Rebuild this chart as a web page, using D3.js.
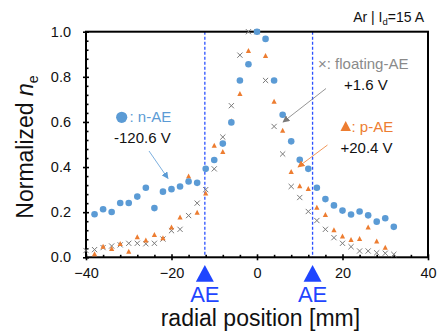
<!DOCTYPE html>
<html>
<head>
<meta charset="utf-8">
<script src="https://cdn.jsdelivr.net/npm/d3@7"></script>
<style>
  body { margin: 0; background: #fff; }
  svg { display: block; font-family: 'Liberation Sans', Arial, sans-serif; }
  .tick text { font-size: 14.5px; fill: #111; }
</style>
</head>
<body>
<svg width="441" height="334"></svg>
<script>
  // radial positions [mm]
  const posNAE = [-38, -36, -34, -32, -30, -28, -26, -24, -22, -20, -18, -16, -14, -12, -10, -8, -6, -4, -2,
    0, 2, 4, 6, 8, 10, 12, 14, 16, 18, 20, 22, 24, 26, 28, 30, 32];
  const valNAE = [0.191, 0.213, 0.201, 0.241, 0.241, 0.269, 0.308, 0.218, 0.291, 0.302, 0.314, 0.336, 0.330, 0.392, 0.431, 0.504, 0.598, 0.784, 0.856,
    1.0, 0.968, 0.784, 0.632, 0.514, 0.432, 0.392, 0.308, 0.258, 0.230, 0.207, 0.190, 0.203, 0.186, 0.158, 0.173, 0.135];

  const posPAE = [-38, -36, -34, -32, -30, -28, -26, -24, -22, -20, -18, -16, -14, -12, -10, -8, -6, -4, -2,
    0, 2, 4, 6, 8, 10, 12, 14, 16, 18, 20, 22, 24, 26, 28, 30];
  const valPAE = [0.013, 0.047, 0.037, 0.059, 0.025, 0.089, 0.074, 0.099, 0.084, 0.132, 0.176, 0.358, 0.198, 0.283, 0.495, 0.467, 0.603, 0.724, 0.914,
    1.0, 0.892, 0.690, 0.561, 0.378, 0.315, 0.303, 0.220, 0.187, 0.120, 0.092, 0.077, 0.081, 0.132, 0.070, 0.042];

  const posFAE = [-40, -38, -36, -34, -32, -30, -28, -26, -24, -22, -20, -18, -16, -14, -12, -10, -8, -6, -4, -2,
    0, 2, 4, 6, 8, 10, 12, 14, 16, 18, 20, 22, 24, 26, 28, 30, 32];
  const valFAE = [0.030, 0.034, 0.043, 0.050, 0.055, 0.062, 0.062, 0.060, 0.062, 0.081, 0.118, 0.124, 0.185, 0.240, 0.300, 0.392, 0.533, 0.672, 0.896, 1.0,
    1.0, 0.784, 0.580, 0.458, 0.314, 0.265, 0.203, 0.163, 0.124, 0.087, 0.062, 0.047, 0.028, 0.028, 0.020, 0.018, 0.013];

  // electrode positions
  const aePositions = [-12.2, 13];

  const xTicks = [-40, -20, 0, 20, 40];
  const xMinor = [-36, -32, -28, -24, -16, -12, -8, -4, 4, 8, 12, 16, 24, 28, 32, 36];
  const yTicks = [0, 0.2, 0.4, 0.6, 0.8, 1.0];
  const yMinor = [0.04, 0.08, 0.12, 0.16, 0.24, 0.28, 0.32, 0.36, 0.44, 0.48, 0.52, 0.56, 0.64, 0.68, 0.72, 0.76, 0.84, 0.88, 0.92, 0.96];

  const blue = '#5b9bd5';
  const orange = '#ed7d31';
  const grey = '#7a7a7a';
  const aeBlue = '#1f45ff';

  const svg = d3.select('svg');
  const margin = { top: 31.7, left: 86, right: 13, bottom: 76.7 };
  const innerWidth = 441 - margin.left - margin.right;
  const innerHeight = 334 - margin.top - margin.bottom;

  const xScale = d3.scaleLinear().domain([-40, 40]).range([0, innerWidth]);
  const yScale = d3.scaleLinear().domain([0, 1]).range([innerHeight, 0]);

  const g = svg.append('g')
    .attr('transform', `translate(${margin.left},${margin.top})`);

  // AE dashed lines
  g.selectAll('line.ae').data(aePositions)
    .enter().append('line')
      .attr('class', 'ae')
      .attr('x1', d => xScale(d)).attr('x2', d => xScale(d))
      .attr('y1', 0).attr('y2', innerHeight)
      .attr('stroke', '#2a50ff')
      .attr('stroke-width', 1.3)
      .attr('stroke-dasharray', '3,2');

  // axes
  const yAxisOut = g.append('g')
    .call(d3.axisLeft(yScale).tickValues(yTicks).tickFormat(d3.format('.1f')).tickSize(3).tickPadding(12));
  const yAxisIn = g.append('g')
    .call(d3.axisLeft(yScale).tickValues(yTicks).tickSize(-3));
  const yAxisMinor = g.append('g')
    .call(d3.axisLeft(yScale).tickValues(yMinor).tickSize(-2.5));

  const xAxisOut = g.append('g')
    .attr('transform', `translate(0,${innerHeight})`)
    .call(d3.axisBottom(xScale).tickValues(xTicks).tickSize(3).tickPadding(7.5));
  const xAxisIn = g.append('g')
    .attr('transform', `translate(0,${innerHeight})`)
    .call(d3.axisBottom(xScale).tickValues(xTicks).tickSize(-3));
  const xAxisMinor = g.append('g')
    .attr('transform', `translate(0,${innerHeight})`)
    .call(d3.axisBottom(xScale).tickValues(xMinor).tickSize(-2.5));

  [yAxisIn, yAxisMinor, xAxisIn, xAxisMinor].forEach(a => a.selectAll('.tick text').remove());

  [yAxisOut, yAxisIn, yAxisMinor, xAxisOut, xAxisIn, xAxisMinor].forEach(a => {
    a.select('.domain').remove();
    a.selectAll('.tick line').attr('stroke', '#000').attr('stroke-width', 1.6);
    a.attr('font-family', null).attr('font-size', null);
  });

  g.append('rect')
    .attr('width', innerWidth)
    .attr('height', innerHeight)
    .attr('fill', 'none')
    .attr('stroke', '#000')
    .attr('stroke-width', 2);

  // floating-AE crosses
  const cr = 2.6;
  g.selectAll('path.fae').data(posFAE)
    .enter().append('path')
      .attr('class', 'fae')
      .attr('transform', (d, i) => `translate(${xScale(d)},${yScale(valFAE[i])})`)
      .attr('d', `M${-cr},${-cr}L${cr},${cr}M${-cr},${cr}L${cr},${-cr}`)
      .attr('stroke', grey)
      .attr('stroke-width', 1)
      .attr('fill', 'none');

  // p-AE triangles
  const triangle = (w, h) => `M0,${-h * 0.6}L${w / 2},${h * 0.4}L${-w / 2},${h * 0.4}Z`;
  g.selectAll('path.pae').data(posPAE)
    .enter().append('path')
      .attr('class', 'pae')
      .attr('transform', (d, i) => `translate(${xScale(d)},${yScale(valPAE[i])})`)
      .attr('d', triangle(5.2, 5))
      .attr('fill', orange);

  // n-AE circles
  g.selectAll('circle.nae').data(posNAE)
    .enter().append('circle')
      .attr('class', 'nae')
      .attr('cx', d => xScale(d))
      .attr('cy', (d, i) => yScale(valNAE[i]))
      .attr('r', 3.3)
      .attr('fill', blue);

  // arrows
  const defs = svg.append('defs');
  [['arrBlue', blue], ['arrGrey', grey], ['arrOrange', orange]].forEach(([id, c]) => {
    defs.append('marker')
      .attr('id', id)
      .attr('viewBox', '0 0 10 10')
      .attr('refX', 9).attr('refY', 5)
      .attr('markerWidth', 7).attr('markerHeight', 7)
      .attr('markerUnits', 'userSpaceOnUse')
      .attr('orient', 'auto')
      .append('path').attr('d', 'M0,0L10,5L0,10Z').attr('fill', c);
  });

  const arrows = [
    { from: [149, 151], to: [168, 178.5], id: 'arrBlue', c: blue },
    { from: [326, 88.5], to: [283, 122], id: 'arrGrey', c: grey },
    { from: [327.5, 145], to: [298, 167], id: 'arrOrange', c: orange }
  ];
  svg.selectAll('line.arrow').data(arrows)
    .enter().append('line')
      .attr('x1', d => d.from[0]).attr('y1', d => d.from[1])
      .attr('x2', d => d.to[0]).attr('y2', d => d.to[1])
      .attr('stroke', d => d.c)
      .attr('stroke-width', 0.8)
      .attr('marker-end', d => `url(#${d.id})`);

  // annotations
  const label = (x, y, text, fill, size = 15) => svg.append('text')
    .attr('x', x).attr('y', y)
    .attr('font-size', size)
    .attr('fill', fill)
    .text(text);

  svg.append('circle').attr('cx', 121.7).attr('cy', 117.3).attr('r', 5.6).attr('fill', blue);
  label(129.5, 122, ': n-AE', blue);
  label(114, 143, '-120.6 V', '#111');

  label(318, 68.5, '\u00d7: floating-AE', '#8a8a8a');
  label(344, 89.5, '+1.6 V', '#111');

  svg.append('path')
    .attr('transform', 'translate(345.7,127)')
    .attr('d', triangle(10.5, 10))
    .attr('fill', orange);
  label(351.5, 132, ': p-AE', orange);
  label(340.5, 153, '+20.4 V', '#111');

  const title = svg.append('text')
    .attr('x', 424).attr('y', 21.7)
    .attr('text-anchor', 'end')
    .attr('font-size', 14)
    .attr('fill', '#111');
  title.append('tspan').text('Ar | I');
  title.append('tspan').attr('font-size', 9.5).attr('dy', 3).text('d');
  title.append('tspan').attr('dy', -3).text('=15 A');

  // AE markers under axis
  const ae = svg.append('g').attr('transform', `translate(${margin.left},0)`);
  ae.selectAll('path.aeTri').data(aePositions)
    .enter().append('path')
      .attr('d', d => `M${xScale(d)},265L${xScale(d) + 9},281.7L${xScale(d) - 9},281.7Z`)
      .attr('fill', aeBlue);
  ae.selectAll('text.aeText').data(aePositions)
    .enter().append('text')
      .attr('x', d => xScale(d))
      .attr('y', 301.7)
      .attr('text-anchor', 'middle')
      .attr('font-size', 22)
      .attr('fill', aeBlue)
      .text('AE');

  // axis titles
  svg.append('text')
    .attr('x', margin.left + xScale(0.8))
    .attr('y', 325.5)
    .attr('text-anchor', 'middle')
    .attr('font-size', 23)
    .attr('fill', '#111')
    .text('radial position [mm]');

  const yTitle = svg.append('text')
    .attr('transform', 'translate(33,147) rotate(-90)')
    .attr('text-anchor', 'middle')
    .attr('font-size', 23)
    .attr('fill', '#111');
  yTitle.append('tspan').text('Normalized ');
  yTitle.append('tspan').attr('font-style', 'italic').text('n');
  yTitle.append('tspan').attr('font-size', 14).attr('dy', 5).text('e');
</script>
</body>
</html>
